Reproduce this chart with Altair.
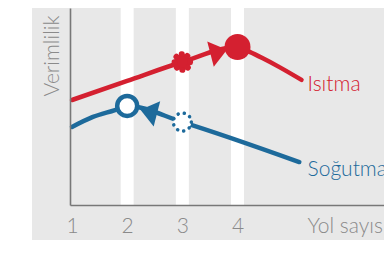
import altair as alt
import pandas as pd

RED = "#D42030"
BLUE = "#1D6A9B"
GRAY_BG = "#E8E8E8"
AXIS_C = "#777777"
TXT = "#8A8A8A"
FONT = "Lato"

# Isıtma (heating) efficiency curve
heat_x = [1.0, 2.0, 3.0, 4.0, 4.22, 4.45, 4.76, 5.16]
heat_y = [5.33, 6.30, 7.26, 8.02, 7.77, 7.46, 7.00, 6.35]
# Soğutma (cooling) efficiency curve
cool_x = [1.0, 1.38, 1.78, 2.0, 3.0, 5.12]
cool_y = [3.96, 4.47, 4.82, 5.03, 4.21, 2.18]

stripe_x = [2, 3, 4]
tick_values = [1, 2, 3, 4]
series_names = ["Isıtma", "Soğutma"]
label_x = [5.27, 5.27]
label_y = [6.09, 1.80]

# markers
heat_star = {"x": [3.0], "y": [7.26]}
heat_dot = {"x": [4.0], "y": [8.02]}
heat_arrow = {"x": [3.66], "y": [7.77]}
cool_ring = {"x": [2.0], "y": [5.03]}
cool_dotted = {"x": [3.0], "y": [4.21]}
cool_arrow = {"x": [2.39], "y": [4.73]}

W, H = 314, 197
PX_PER_UNIT = 55.17
x0 = 1 - 2 / PX_PER_UNIT
xscale = alt.Scale(domain=[x0, x0 + W / PX_PER_UNIT], nice=False, zero=False)
yscale = alt.Scale(domain=[0, 10], nice=False, zero=False)

x_axis = alt.Axis(values=tick_values, ticks=False, grid=False, domainColor=AXIS_C,
                  domainWidth=1.6, labelFont=FONT, labelFontSize=21, labelFontWeight=300,
                  labelColor=TXT, labelBaseline="middle", labelPadding=21, labelAlign="center",
                  title="Yol sayısı", titleFont=FONT, titleFontSize=21, titleFontWeight=300,
                  titleColor=TXT, titleX=237, titleY=21, titleAlign="left",
                  titleBaseline="middle", zindex=1, format="d")
y_axis = alt.Axis(ticks=False, labels=False, grid=False, domainColor=AXIS_C,
                  domainWidth=1.6, title="Verimlilik", titleFont=FONT, titleFontSize=21,
                  titleFontWeight=300, titleColor=TXT, titleAngle=270, titleX=-12,
                  titleY=7, titleAlign="right", titleBaseline="alphabetic", zindex=1)

def xe():
    return alt.X("x:Q", scale=xscale, axis=x_axis)

def ye():
    return alt.Y("y:Q", scale=yscale, axis=y_axis)

bg = alt.Chart(pd.DataFrame({"a": [0]})).mark_rect(color=GRAY_BG).encode(
    x=alt.value(-38), x2=alt.value(W), y=alt.value(0), y2=alt.value(232))

stripes = alt.Chart(pd.DataFrame({"x": stripe_x})).mark_rule(
    color="white", strokeWidth=13).encode(x=xe())

heat = alt.Chart(pd.DataFrame({"x": heat_x, "y": heat_y})).mark_line(
    color=RED, strokeWidth=4.5, strokeCap="round", interpolate="monotone").encode(x=xe(), y=ye())
cool = alt.Chart(pd.DataFrame({"x": cool_x, "y": cool_y})).mark_line(
    color=BLUE, strokeWidth=4.5, strokeCap="round", interpolate="monotone").encode(x=xe(), y=ye())

ARROW = "M-0.6,-0.92L0.6,0L-0.6,0.92Z"

m_star = alt.Chart(pd.DataFrame(heat_star)).mark_point(
    shape="circle", filled=True, fill=RED, stroke=RED, strokeWidth=5.5, strokeDash=[0.5, 5.6],
    strokeCap="round", size=256, opacity=1).encode(x=xe(), y=ye())
m_dot = alt.Chart(pd.DataFrame(heat_dot)).mark_point(
    shape="circle", filled=True, fill=RED, size=676, opacity=1).encode(x=xe(), y=ye())
m_harrow = alt.Chart(pd.DataFrame(heat_arrow)).mark_point(
    shape=ARROW, filled=True, fill=RED, size=806, angle=345.5, opacity=1).encode(x=xe(), y=ye())
m_ring = alt.Chart(pd.DataFrame(cool_ring)).mark_point(
    shape="circle", filled=True, fill="white", stroke=BLUE, strokeWidth=4.5, size=400,
    opacity=1).encode(x=xe(), y=ye())
m_dotted = alt.Chart(pd.DataFrame(cool_dotted)).mark_point(
    shape="circle", filled=True, fill="white", stroke=BLUE, strokeWidth=3.5,
    strokeDash=[0.1, 6.2], strokeCap="round", size=324, opacity=1).encode(x=xe(), y=ye())
m_carrow = alt.Chart(pd.DataFrame(cool_arrow)).mark_point(
    shape=ARROW, filled=True, fill=BLUE, size=806, angle=194.5, opacity=1).encode(x=xe(), y=ye())

labels = alt.Chart(pd.DataFrame({"x": label_x, "y": label_y, "name": series_names})).mark_text(
    align="left", baseline="middle", font=FONT, fontSize=21, fontWeight=300).encode(
    x=xe(), y=ye(), text="name:N",
    color=alt.Color("name:N", scale=alt.Scale(domain=series_names, range=[RED, BLUE]), legend=None))

chart = alt.layer(bg, stripes, heat, cool, m_star, m_harrow, m_dot, m_dotted, m_carrow, m_ring,
                  labels).properties(
    width=W, height=H,
    autosize=alt.AutoSizeParams(type="none"),
    padding={"left": 62, "top": 0, "right": 0, "bottom": 35},
    background="white",
).configure_view(stroke=None)

chart.save("out.html", embed_options={"renderer": "svg", "actions": False})
